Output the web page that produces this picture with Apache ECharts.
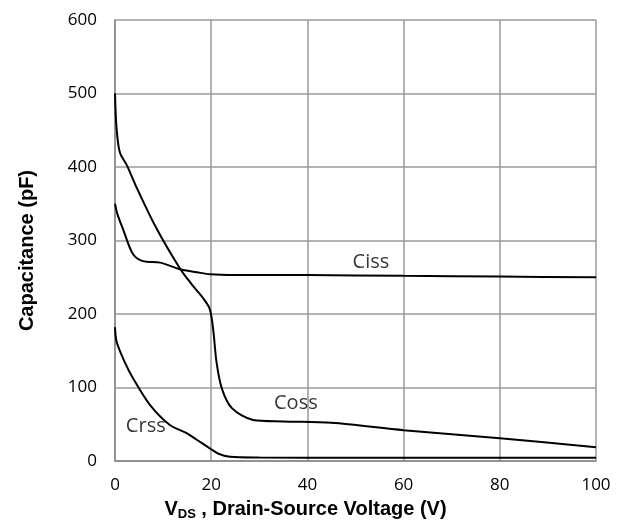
<!DOCTYPE html>
<html>
<head>
<meta charset="utf-8">
<script src="https://cdn.jsdelivr.net/npm/echarts@6/dist/echarts.min.js"></script>
<style>html,body{margin:0;padding:0;background:#fff;}#c{width:620px;height:526px;}</style>
</head>
<body>
<div id="c"></div>
<script>
var xTicks = [0, 20, 40, 60, 80, 100];
var yTicks = [0, 100, 200, 300, 400, 500, 600];
var cissData = [[0,350],[0.5,336],[1.7,315],[3.7,282],[5.8,272],[9.4,270],[13.5,261],[17,257],[19.8,254],[25,253],[40,253],[60,252],[80,251],[100,250]];
var cossData = [[0,500],[0.3,455],[1,420],[2.5,402],[4.5,372],[8.5,318],[13.5,262],[16,240],[18.5,220],[19.7,207],[20.4,180],[21.1,135],[22.2,99],[24.3,72],[28.7,56],[35,54],[45,52],[60,42],[80,31],[100,19]];
var crssData = [[0,182],[0.35,162],[2,135],[3.8,112],[7.3,76],[11.4,49],[14.9,38],[17,29],[19.8,17],[21.5,10],[23.9,6],[30,5],[50,4.5],[100,4.5]];
var curveLabels = [
  {name: 'Ciss', value: [53.2, 271]},
  {name: 'Coss', value: [37.6, 78]},
  {name: 'Crss', value: [6.4, 47]}
];

function lineSeries(name, data) {
  return {
    name: name, type: 'line', data: data, showSymbol: false, symbol: 'none',
    smooth: 0.3,
    lineStyle: {color: '#000', width: 2}, silent: true, z: 3
  };
}

var chart = echarts.init(document.getElementById('c'), null, {renderer: 'canvas'});
chart.setOption({
  animation: false,
  backgroundColor: '#fff',
  grid: {left: 115, right: 24, top: 20, bottom: 63, containLabel: false},
  xAxis: {
    type: 'value', min: xTicks[0], max: xTicks[xTicks.length - 1], interval: 20,
    name: '{v|V}{s|DS}{v| , Drain-Source Voltage (V)}',
    nameLocation: 'middle', nameGap: 33,
    nameTextStyle: {
      padding: [0, 100, 0, 0],
      rich: {
        v: {fontFamily: 'Liberation Sans', fontWeight: 'bold', fontSize: 20, color: '#000', lineHeight: 24},
        s: {fontFamily: 'Liberation Sans', fontWeight: 'bold', fontSize: 13, color: '#000', lineHeight: 13, verticalAlign: 'bottom'}
      }
    },
    axisLine: {show: true, lineStyle: {color: '#888', width: 1.5}},
    axisTick: {show: false},
    axisLabel: {margin: 16, fontFamily: 'Open Sans', fontSize: 17, color: '#000',
      formatter: function (v) { return xTicks.indexOf(v) >= 0 ? String(v) : ''; }},
    splitLine: {show: true, lineStyle: {color: '#9a9a9a', width: 1.5}}
  },
  yAxis: {
    type: 'value', min: yTicks[0], max: yTicks[yTicks.length - 1], interval: 100,
    name: 'Capacitance (pF)', nameLocation: 'middle', nameGap: 78,
    nameTextStyle: {fontFamily: 'Liberation Sans', fontWeight: 'bold', fontSize: 20, color: '#000', padding: [0, 20, 0, 0]},
    axisLine: {show: true, lineStyle: {color: '#888', width: 1.5}},
    axisTick: {show: false},
    axisLabel: {margin: 18, fontFamily: 'Open Sans', fontSize: 17, color: '#000',
      formatter: function (v) { return yTicks.indexOf(v) >= 0 ? String(v) : ''; }},
    splitLine: {show: true, lineStyle: {color: '#9a9a9a', width: 1.5}}
  },
  series: [
    lineSeries('Ciss', cissData),
    lineSeries('Coss', cossData),
    lineSeries('Crss', crssData),
    {
      type: 'scatter', data: curveLabels, symbolSize: 0, silent: true, z: 4,
      label: {show: true, position: 'inside', formatter: '{b}', fontFamily: 'Open Sans', fontSize: 20, color: '#000'}
    }
  ]
});
</script>
</body>
</html>
